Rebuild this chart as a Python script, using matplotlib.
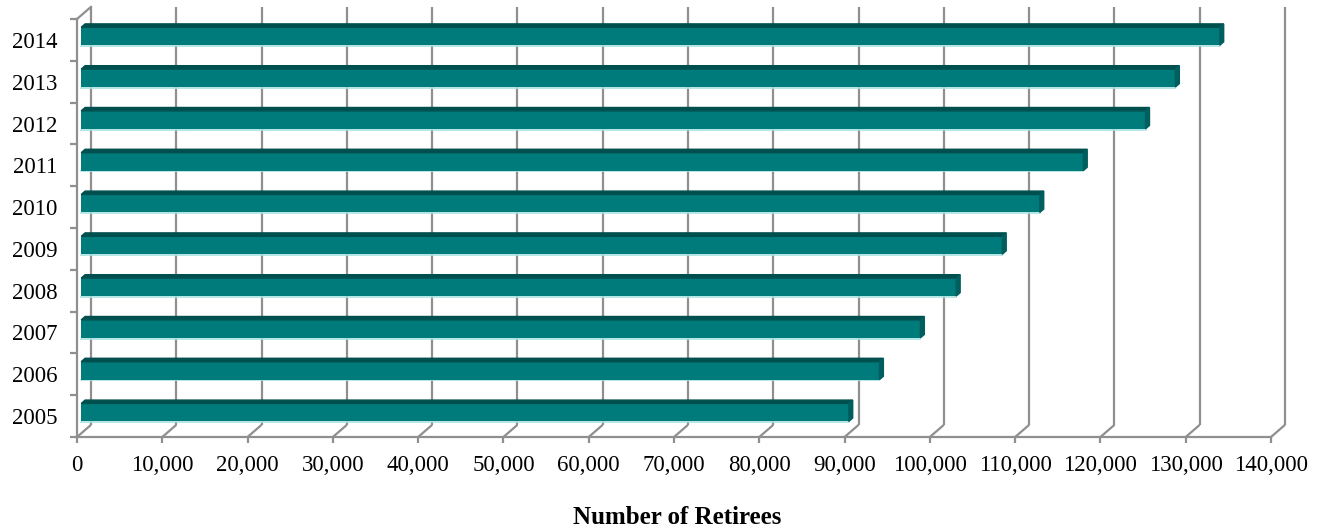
import matplotlib
matplotlib.use('Agg')
import matplotlib.pyplot as plt
from matplotlib.patches import Polygon
from matplotlib.ticker import FuncFormatter, MultipleLocator, FixedLocator
import numpy as np

years = ['2005', '2006', '2007', '2008', '2009', '2010', '2011', '2012', '2013', '2014']
retirees = [90000, 93600, 98400, 102600, 108000, 112400, 117500, 124800, 128300, 133500]
x_ticks = np.arange(0, 140001, 10000)

plt.rcParams['font.family'] = ['Liberation Serif', 'DejaVu Serif']

face = '#007b7b'
top_col = '#004f4f'
side_col = '#005e5e'
grid_col = '#8f8f8f'

# oblique depth of the floor/back wall, in data units
dx = 1641
dy = 0.29

fig = plt.figure(figsize=(13.24, 5.29), dpi=100)
ax = fig.add_axes([77 / 1324, 92 / 529, 1194 / 1324, 418 / 529])
ax.set_xlim(0, 140000)
ax.set_ylim(-0.5, 9.5)
ax.set_facecolor('none')

for s in ['top', 'right']:
    ax.spines[s].set_visible(False)
for s in ['left', 'bottom']:
    ax.spines[s].set_color(grid_col)
    ax.spines[s].set_linewidth(1.6)

# back wall gridlines and their floor diagonals
for v in x_ticks:
    ax.plot([v, v + dx], [-0.5, -0.5 + dy], color=grid_col, lw=1.6,
            clip_on=False, zorder=1, solid_capstyle='butt')
    ax.plot([v + dx, v + dx], [-0.5 + dy, 9.5 + dy], color=grid_col, lw=1.6,
            clip_on=False, zorder=1, solid_capstyle='butt')
ax.plot([0, dx], [9.5, 9.5 + dy], color=grid_col, lw=1.6, clip_on=False, zorder=1)

# bars with a shallow 3-D top and end face
y = np.arange(len(years))
d0, d1 = 0.3, 0.58
h = 0.43
ox, oy = d0 * dx, d0 * dy
ddx, ddy = (d1 - d0) * dx, (d1 - d0) * dy
ax.barh(y + oy, retirees, left=ox, height=h, color=face, zorder=3, clip_on=False)
for yi, v in zip(y, retirees):
    yb = yi + oy - h / 2
    yt = yi + oy + h / 2
    xr = ox + v
    ax.add_patch(Polygon([[ox, yt], [xr, yt], [xr + ddx, yt + ddy], [ox + ddx, yt + ddy]],
                         closed=True, color=top_col, zorder=3, clip_on=False))
    ax.add_patch(Polygon([[xr, yb], [xr + ddx, yb + ddy], [xr + ddx, yt + ddy], [xr, yt]],
                         closed=True, color=side_col, zorder=3, clip_on=False))
    ax.plot([ox, xr], [yb - 0.02, yb - 0.02], color='#a8e2e2', lw=1.2, zorder=2,
            clip_on=False)

ax.xaxis.set_major_locator(FixedLocator(x_ticks))
ax.xaxis.set_major_formatter(FuncFormatter(lambda v, p: f'{int(v):,}'))
ax.tick_params(axis='x', which='major', length=4, width=1.6, color=grid_col,
               labelsize=16.5, pad=9)

ax.yaxis.set_major_locator(MultipleLocator(1, offset=0.5))
ax.yaxis.set_major_formatter(FuncFormatter(lambda v, p: ''))
ax.yaxis.set_minor_locator(FixedLocator(y))
ax.set_yticks(y, years, minor=True)
ax.tick_params(axis='y', which='major', length=5, width=1.6, color=grid_col)
ax.tick_params(axis='y', which='minor', length=0, labelsize=16.5, pad=14)

fig.text(677 / 1324, 11 / 529, 'Number of Retirees', ha='center', va='center',
         fontsize=18, fontweight='bold')

fig.savefig('out.png', dpi=100)
